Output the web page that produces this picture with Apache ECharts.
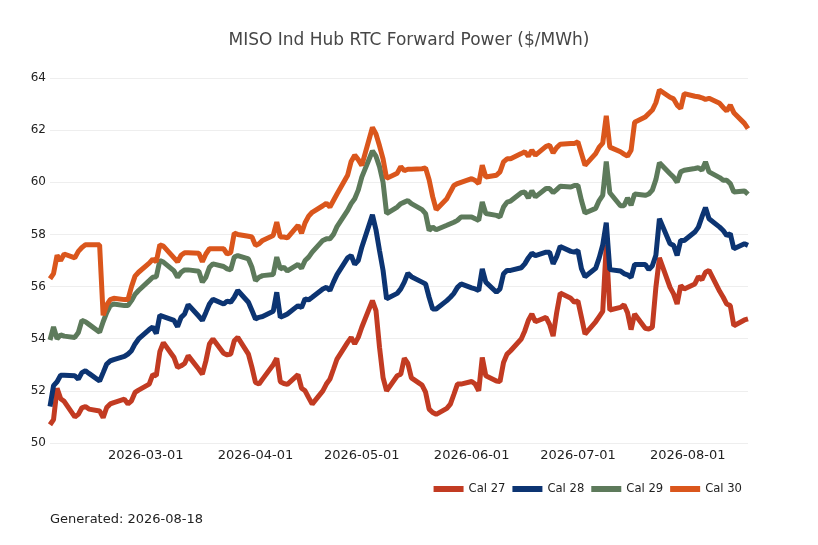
<!DOCTYPE html>
<html>
<head>
<meta charset="utf-8">
<title>MISO Ind Hub RTC Forward Power</title>
<script src="https://cdn.jsdelivr.net/npm/echarts@6/dist/echarts.min.js"></script>
<style>
  html, body { margin: 0; padding: 0; background: #fff; }
  #chart { width: 818px; height: 545px; }
</style>
</head>
<body>
<div id="chart"></div>
<script>
// trading days (weekdays) from first to last quote
var startDay = '2026-02-02';
var endDay = '2026-08-18';
var generatedOn = '2026-08-18';

var seriesNames = ['Cal 27', 'Cal 28', 'Cal 29', 'Cal 30'];
var seriesColors = ['#c23b22', '#0c3472', '#5d7a5b', '#da561c'];
var yTicks = [50, 52, 54, 56, 58, 60, 62, 64];

// one row = one week (Mon..Fri)
var cal27 = [
  50.7, 50.9, 52.1, 51.7, 51.6,
  51.0, 51.1, 51.35, 51.4, 51.3,
  51.23, 50.97, 51.36, 51.5, 51.55,
  51.68, 51.5, 51.62, 51.94, 52.03,
  52.26, 52.62, 52.58, 53.5, 53.85,
  53.28, 52.9, 52.96, 53.05, 53.35,
  52.83, 52.64, 53.15, 53.8, 53.99,
  53.44, 53.38, 53.41, 53.92, 54.05,
  53.41, 52.9, 52.32, 52.26, 52.45,
  53.0, 53.25, 52.35, 52.28, 52.25,
  52.62, 52.1, 52.0, 51.74, 51.49,
  52.0, 52.26, 52.45, 52.83, 53.22,
  53.86, 54.05, 53.8, 54.05, 54.44,
  55.46, 55.08, 53.67, 52.51, 52.0,
  52.58, 52.64, 53.25, 53.05, 52.5,
  52.22, 51.95, 51.3, 51.17, 51.1,
  51.33, 51.49, 51.87, 52.26, 52.26,
  52.36, 52.26, 52.0, 53.28, 52.58,
  52.38, 52.36, 53.09, 53.41, 53.54,
  53.99, 54.3, 54.7, 54.95, 54.65,
  54.82, 54.55, 54.1, 55.0, 55.75,
  55.55, 55.4, 55.45, 54.82, 54.18,
  54.65, 54.85, 55.05, 57.6, 55.1,
  55.2, 55.3, 55.0, 54.35, 54.95,
  54.4, 54.37, 54.44, 55.97, 57.1,
  55.97, 55.72, 55.33, 56.04, 55.91,
  56.1, 56.38, 56.26, 56.55, 56.62,
  55.82, 55.59, 55.33, 55.27, 54.5,
  54.72, 54.76
];
var cal28 = [
  51.4, 52.2, 52.35, 52.6, 52.6,
  52.58, 52.45, 52.7, 52.77, 52.67,
  52.38, 52.7, 53.03, 53.15, 53.2,
  53.32, 53.41, 53.54, 53.8, 53.99,
  54.35, 54.45, 54.2, 54.9, 54.85,
  54.7, 54.46, 54.82, 54.95, 55.31,
  54.86, 54.7, 55.01, 55.33, 55.51,
  55.33, 55.44, 55.4, 55.59, 55.85,
  55.4, 55.08, 54.76, 54.82, 54.85,
  55.05, 55.78, 54.82, 54.88, 54.95,
  55.27, 55.2, 55.53, 55.49, 55.59,
  55.91, 55.97, 55.85, 56.17, 56.46,
  57.1, 57.19, 56.85, 57.0, 57.51,
  58.75, 58.18, 57.38, 56.62, 55.53,
  55.74, 55.91, 56.17, 56.51, 56.38,
  56.17, 56.1, 55.59, 55.14, 55.14,
  55.46, 55.59, 55.74, 55.97, 56.1,
  55.95, 55.91, 55.85, 56.68, 56.17,
  55.78, 55.91, 56.49, 56.62, 56.62,
  56.72, 56.87, 57.1, 57.28, 57.19,
  57.32, 57.32, 56.87, 57.15, 57.54,
  57.35, 57.32, 57.38, 56.68, 56.38,
  56.7, 57.1, 57.6, 58.45, 56.65,
  56.6, 56.5, 56.45, 56.35, 56.85,
  56.85, 56.65, 56.8, 57.2, 58.6,
  57.64, 57.58, 57.19, 57.77, 57.77,
  58.09, 58.28, 58.67, 59.03, 58.6,
  58.28, 58.15, 57.96, 58.03, 57.45,
  57.64, 57.58
];
var cal29 = [
  53.95, 54.45, 54.0, 54.15, 54.1,
  54.05, 54.24, 54.7, 54.65, 54.55,
  54.25, 54.65, 55.0, 55.27, 55.33,
  55.27, 55.27, 55.46, 55.7, 55.85,
  56.23, 56.36, 56.38, 57.0, 56.94,
  56.6, 56.36, 56.55, 56.64, 56.64,
  56.59, 56.17, 56.36, 56.74, 56.87,
  56.77, 56.68, 56.64, 57.13, 57.19,
  57.06, 56.74, 56.23, 56.36, 56.42,
  56.46, 57.13, 56.68, 56.74, 56.6,
  56.85, 56.7, 57.0, 57.13, 57.32,
  57.77, 57.83, 57.83, 58.0, 58.3,
  58.92, 59.18, 59.37, 59.7, 60.2,
  61.2, 61.0, 60.6, 60.0, 58.8,
  59.05, 59.18, 59.24, 59.3, 59.18,
  58.95, 58.8, 58.15, 58.28, 58.18,
  58.35, 58.41, 58.47, 58.54, 58.67,
  58.67, 58.6, 58.54, 59.24, 58.8,
  58.73, 58.67, 59.05, 59.24, 59.28,
  59.6, 59.63, 59.4, 59.67, 59.44,
  59.76, 59.76, 59.6, 59.72, 59.85,
  59.82, 59.88, 59.88, 59.3, 58.82,
  59.0, 59.3, 59.5, 60.8, 59.6,
  59.1, 59.1, 59.4, 59.12, 59.55,
  59.5, 59.55, 59.7, 60.1, 60.75,
  60.33, 60.2, 60.0, 60.4, 60.46,
  60.53, 60.56, 60.46, 60.78, 60.4,
  60.18, 60.08, 60.08, 59.95, 59.63,
  59.67, 59.54
];
var cal30 = [
  56.3, 56.5, 57.2, 57.0, 57.25,
  57.1, 57.35, 57.5, 57.6, 57.6,
  57.6, 54.9, 55.3, 55.5, 55.55,
  55.5, 55.5, 56.0, 56.4, 56.55,
  56.9, 57.05, 56.95, 57.6, 57.55,
  57.1, 56.95, 57.2, 57.3, 57.3,
  57.28, 56.95, 57.25, 57.45, 57.45,
  57.45, 57.25, 57.3, 58.05, 58.0,
  57.93, 57.9, 57.58, 57.64, 57.77,
  57.96, 58.47, 57.9, 57.9, 57.87,
  58.35, 58.05, 58.45, 58.7, 58.85,
  59.1, 59.2, 59.05, 59.3, 59.55,
  60.27, 60.8, 61.04, 60.87, 60.65,
  62.1, 61.85, 61.4, 60.9, 60.15,
  60.35, 60.6, 60.45, 60.5, 60.5,
  60.52, 60.55, 60.1, 59.45, 58.95,
  59.37, 59.63, 59.88, 59.95, 60.0,
  60.14, 60.07, 59.95, 60.65, 60.2,
  60.27, 60.4, 60.78, 60.9, 60.9,
  61.1, 61.17, 61.0, 61.23, 61.04,
  61.38, 61.42, 61.13, 61.33, 61.46,
  61.49, 61.49, 61.55, 61.1, 60.65,
  61.1, 61.35, 61.5, 62.55, 61.35,
  61.17, 61.08, 61.0, 61.23, 62.3,
  62.5, 62.64, 62.77, 63.05, 63.54,
  63.26, 63.2, 62.96, 62.83, 63.4,
  63.3, 63.28, 63.24, 63.18, 63.22,
  63.03, 62.87, 62.74, 62.96, 62.67,
  62.26, 62.06
];

function pad(n) { return n < 10 ? '0' + n : '' + n; }

function weekdays(from, to)
{
	var out = [];
	var d = new Date(from + 'T00:00:00Z');
	var end = new Date(to + 'T00:00:00Z');
	while (d <= end) {
		var wd = d.getUTCDay();
		if (wd !== 0 && wd !== 6) {
			out.push(d.getUTCFullYear() + '-' + pad(d.getUTCMonth() + 1) + '-' + pad(d.getUTCDate()));
		}
		d.setUTCDate(d.getUTCDate() + 1);
	}
	return out;
}

var days = weekdays(startDay, endDay);
var allValues = [cal27, cal28, cal29, cal30];

var seriesData = [];
for (var s = 0; s < seriesNames.length; s++) {
	var pts = [];
	for (var i = 0; i < days.length; i++) {
		pts.push([days[i], allValues[s][i]]);
	}
	seriesData.push({
		name: seriesNames[s],
		type: 'line',
		data: pts,
		showSymbol: false,
		symbol: 'none',
		lineStyle: { width: 5, color: seriesColors[s] },
		itemStyle: { color: seriesColors[s] },
		emphasis: { disabled: true }
	});
}

var chart = echarts.init(document.getElementById('chart'));
chart.setOption({
	animation: false,
	backgroundColor: '#ffffff',
	textStyle: { fontFamily: 'DejaVu Sans' },
	title: {
		text: 'MISO Ind Hub RTC Forward Power ($/MWh)',
		left: 'center',
		top: 27,
		textStyle: { fontSize: 17, fontWeight: 'normal', color: '#464646', fontFamily: 'DejaVu Sans' }
	},
	grid: { left: 50, right: 70, top: 78, bottom: 102, containLabel: false },
	legend: {
		data: seriesNames,
		right: 71,
		top: 478,
		icon: 'rect',
		itemWidth: 30,
		itemHeight: 6,
		itemGap: 7,
		textStyle: { fontSize: 11.6, color: '#222', fontFamily: 'DejaVu Sans' }
	},
	xAxis: {
		type: 'time',
		min: startDay,
		max: endDay,
		splitLine: { show: false },
		axisLine: { show: false },
		axisTick: { show: false },
		axisLabel: {
			fontSize: 13,
			color: '#222',
			margin: 6,
			showMinLabel: false,
			showMaxLabel: false,
			hideOverlap: false,
			formatter: function (val) {
				var d = new Date(val);
				if (d.getDate() !== 1) return '';
				return d.getFullYear() + '-' + pad(d.getMonth() + 1) + '-' + pad(d.getDate());
			}
		}
	},
	yAxis: {
		type: 'value',
		min: yTicks[0],
		max: yTicks[yTicks.length - 1],
		interval: 2,
		axisLine: { show: false },
		axisTick: { show: false },
		splitLine: { lineStyle: { color: '#eeeeee', width: 1 } },
		axisLabel: { fontSize: 12, color: '#222', margin: 4 }
	},
	graphic: [{
		type: 'text',
		left: 50,
		top: 513,
		style: { text: 'Generated: ' + generatedOn, font: '13px "DejaVu Sans"', fill: '#222' }
	}],
	series: seriesData
});
</script>
</body>
</html>
